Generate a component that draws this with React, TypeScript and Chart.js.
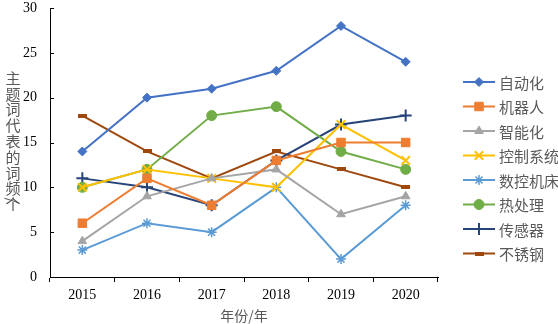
import React, { useEffect, useRef } from 'react';
import Chart from 'chart.js/auto';
import { drawPoint } from 'chart.js/helpers';

const years = ['2015', '2016', '2017', '2018', '2019', '2020'];
const names = ['自动化', '机器人', '智能化', '控制系统', '数控机床', '热处理', '传感器', '不锈钢'];
const zidonghua = [14, 20, 21, 23, 28, 24];
const jiqiren = [6, 11, 8, 13, 15, 15];
const zhinenghua = [4, 9, 11, 12, 7, 9];
const kongzhixitong = [10, 12, 11, 10, 17, 13];
const shukongjichuang = [3, 6, 5, 10, 2, 8];
const rechuli = [10, 12, 18, 19, 14, 12];
const chuanganqi = [11, 10, 8, 13, 17, 18];
const buxiugang = [18, 14, 11, 14, 12, 10];
const yTicks = [0, 5, 10, 15, 20, 25, 30];
const yTitle = '主题词代表的词频/个';
const xTitle = '年份/年';

const colors = ['#4472C4', '#ED7D31', '#A5A5A5', '#FFC000', '#5B9BD5', '#70AD47', '#264478', '#9E480E'];

function makeDash(color: string) {
  const c = document.createElement('canvas');
  c.width = 9;
  c.height = 4;
  const ctx = c.getContext('2d')!;
  ctx.fillStyle = color;
  ctx.fillRect(0, 0, 9, 4);
  return c;
}

export default function App() {
  const ref = useRef<HTMLCanvasElement>(null);
  useEffect(() => {
    document.body.style.margin = '0';
    const dash = makeDash(colors[7]);
    const styles: any[] = ['rectRot', 'rect', 'triangle', 'crossRot', 'star', 'circle', 'cross', dash];
    const radii = [4.5, 6, 5, 6, 5, 5, 6, 5];
    const bws = [1, 1, 1, 2, 1.5, 1, 2, 1];
    const values = [zidonghua, jiqiren, zhinenghua, kongzhixitong, shukongjichuang, rechuli, chuanganqi, buxiugang];
    const datasets = names.map((n, i) => ({
      label: n,
      data: values[i],
      borderColor: colors[i],
      backgroundColor: colors[i],
      pointStyle: styles[i],
      pointRadius: radii[i],
      pointBorderWidth: bws[i],
      pointBackgroundColor: colors[i],
      pointBorderColor: colors[i],
      borderWidth: 2,
      tension: 0,
    }));

    const custom = {
      id: 'custom',
      afterDraw(chart: any) {
        const ctx = chart.ctx;
        ctx.save();
        // inner ticks on y axis
        const ys = chart.scales.y;
        ctx.strokeStyle = '#000';
        ctx.lineWidth = 1;
        for (const v of yTicks) {
          const py = Math.round(ys.getPixelForValue(v)) + 0.5;
          ctx.beginPath();
          ctx.moveTo(ys.right, py);
          ctx.lineTo(ys.right + 4, py);
          ctx.stroke();
        }
        // y title stacked vertically
        ctx.fillStyle = '#595959';
        ctx.font = '15px "Noto Sans CJK SC"';
        ctx.textAlign = 'center';
        ctx.textBaseline = 'middle';
        const chars = Array.from(yTitle);
        let y = 78;
        for (let i = 0; i < chars.length; i++) {
          const ch = chars[i];
          if (ch === '/') {
            ctx.save();
            ctx.translate(13, y - 4);
            ctx.rotate(Math.PI / 2);
            ctx.fillText('/', 0, 0);
            ctx.restore();
            continue;
          }
          ctx.fillText(ch, 13, y);
          y += 15.8;
        }
        // legend
        ctx.textAlign = 'left';
        ctx.font = '15px "Noto Sans CJK SC"';
        for (let i = 0; i < names.length; i++) {
          const ly = 82 + i * 24.5;
          ctx.strokeStyle = colors[i];
          ctx.lineWidth = 2;
          ctx.beginPath();
          ctx.moveTo(463, ly);
          ctx.lineTo(495, ly);
          ctx.stroke();
          ctx.fillStyle = colors[i];
          ctx.lineWidth = bws[i];
          drawPoint(ctx, { pointStyle: styles[i], radius: radii[i], rotation: 0, borderWidth: bws[i] } as any, 479, ly);
          ctx.fillStyle = '#595959';
          ctx.fillText(names[i], 499, ly + 1);
        }
        ctx.restore();
      },
    };

    const chart = new Chart(ref.current!, {
      type: 'line',
      data: { labels: years, datasets },
      options: {
        animation: false,
        responsive: false,
        layout: { padding: { left: 0, right: 120, top: 7, bottom: 0 } },
        plugins: { legend: { display: false }, tooltip: { enabled: false } },
        scales: {
          x: {
            offset: true,
            grid: { offset: true, drawOnChartArea: false, drawTicks: true, tickLength: 5, color: '#000' },
            border: { color: '#000', width: 1 },
            ticks: { color: '#000', font: { family: '"Liberation Serif"', size: 14 }, padding: 5 },
            title: {
              display: true,
              text: xTitle,
              color: '#595959',
              font: { family: '"Noto Sans CJK SC"', size: 14, lineHeight: 1.2 },
              padding: { top: -2, bottom: 0 },
            },
            afterFit: (s: any) => { s.height = 47; s.paddingLeft = 0; s.paddingRight = 0; },
          },
          y: {
            min: 0,
            max: 30,
            afterBuildTicks: (s: any) => { s.ticks = yTicks.map((v) => ({ value: v })); },
            grid: { drawOnChartArea: false, drawTicks: false, color: '#000' },
            border: { color: '#000', width: 1 },
            ticks: { color: '#000', font: { family: '"Liberation Serif"', size: 14 }, padding: 13 },
            afterFit: (s: any) => { s.width = 50; s.paddingTop = 0; s.paddingBottom = 0; },
          },
        },
      },
      plugins: [custom],
    });
    return () => chart.destroy();
  }, []);
  return (
    <div style={{ position: 'absolute', left: 0, top: 0, width: 558, height: 324 }}>
      <canvas ref={ref} width={558} height={324} />
    </div>
  );
}
